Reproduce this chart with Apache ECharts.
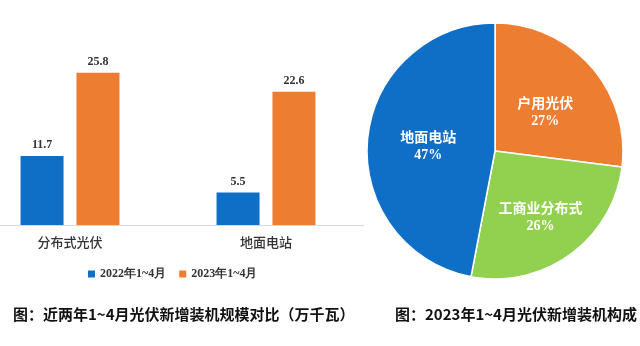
<!DOCTYPE html>
<html>
<head>
<meta charset="utf-8">
<script src="https://cdn.jsdelivr.net/npm/echarts@6/dist/echarts.min.js"></script>
<style>html,body{margin:0;padding:0;background:#fff;}#c{width:640px;height:346px;}</style>
</head>
<body>
<div id="c"></div>
<script>
const categories = ['分布式光伏', '地面电站'];
const seriesNames = ['2022年1~4月', '2023年1~4月'];
const values2022 = [11.7, 5.5];
const values2023 = [25.8, 22.6];
const pieNames = ['户用光伏', '工商业分布式', '地面电站'];
const pieValues = [27, 26, 47];
const titleLeft = '图：近两年1~4月光伏新增装机规模对比（万千瓦）';
const titleRight = '图：2023年1~4月光伏新增装机构成';

const BLUE = '#0F6FC6', ORANGE = '#ED7D31', GREEN = '#92D050';
const SERIF = '"Liberation Serif","DejaVu Serif",serif';
const SANS = '"Noto Sans CJK SC","Noto Sans",sans-serif';

const chart = echarts.init(document.getElementById('c'));
const barLabel = {
  show: true, position: 'top', distance: 5,
  fontFamily: SERIF, fontWeight: 'bold', fontSize: 12, color: '#333'
};
chart.setOption({
  animation: false,
  backgroundColor: '#fff',
  title: [
    { text: titleLeft, left: 8, top: 302, textStyle: { fontFamily: SANS, fontWeight: 'bold', fontSize: 15, color: '#111' } },
    { text: titleRight, left: 390, top: 302, textStyle: { fontFamily: SANS, fontWeight: 'bold', fontSize: 15, color: '#111' } }
  ],
  legend: {
    data: seriesNames, left: 83, top: 263, itemWidth: 7, itemHeight: 7, itemGap: 13,
    icon: 'rect',
    textStyle: { fontFamily: SERIF, fontWeight: 'bold', fontSize: 12, color: '#333' }
  },
  grid: { left: -28, right: 276, top: 48, bottom: 121, outerBoundsMode: 'none', containLabel: false },
  xAxis: {
    type: 'category', data: categories,
    axisLine: { lineStyle: { color: '#d9d9d9', width: 1 } },
    axisTick: { show: false },
    axisLabel: { margin: 11, fontFamily: SANS, fontWeight: 500, fontSize: 13, color: '#333' }
  },
  yAxis: { type: 'value', min: 0, max: 30, show: false, splitLine: { show: false } },
  series: [
    { name: seriesNames[0], type: 'bar', data: values2022, barWidth: 43, barGap: '30%',
      itemStyle: { color: BLUE }, label: barLabel },
    { name: seriesNames[1], type: 'bar', data: values2023, barWidth: 43, barGap: '30%',
      itemStyle: { color: ORANGE }, label: barLabel },
    { type: 'pie', center: [495, 151], radius: 128, startAngle: 90, clockwise: true,
      itemStyle: { borderColor: '#fff', borderWidth: 1.5 },
      data: pieNames.map((n, i) => ({ name: n, value: pieValues[i], itemStyle: { color: [ORANGE, GREEN, BLUE][i] } })),
      label: {
        show: true, position: 'inside',
        formatter: p => '{n|' + p.name + '}\n{p|' + p.value + '%}',
        rich: {
          n: { fontFamily: SANS, fontWeight: 'bold', fontSize: 14, color: '#fff', lineHeight: 20 },
          p: { fontFamily: SERIF, fontWeight: 'bold', fontSize: 14, color: '#fff', lineHeight: 18 }
        }
      },
      labelLine: { show: false },
      labelLayout: p => p.dataIndex === 1 ? { dx: 6, dy: 11 } : (p.dataIndex === 0 ? { dy: 5 } : { dy: 1 })
    }
  ]
});
</script>
</body>
</html>
